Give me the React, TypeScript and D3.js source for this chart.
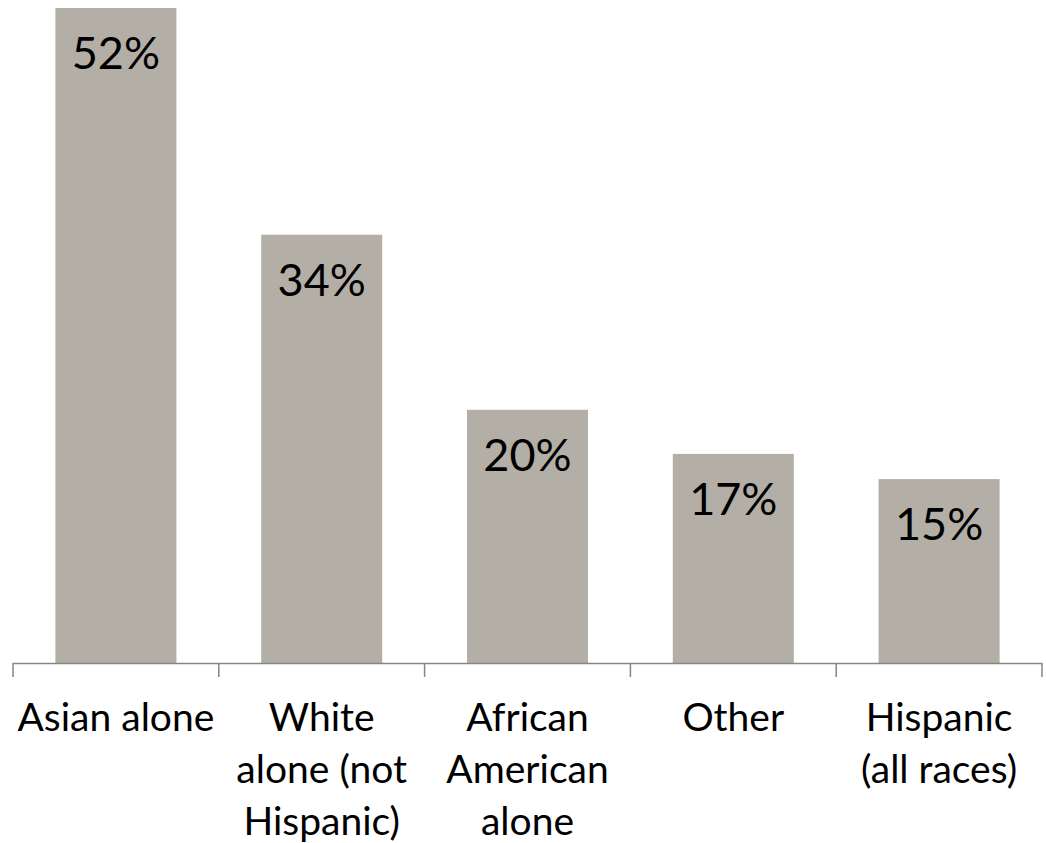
import React from "react";
import * as d3 from "d3";

const categories = ["Asian alone", "White alone (not Hispanic)", "African American alone", "Other", "Hispanic (all races)"];
const categoryLines = [
  ["Asian alone"],
  ["White", "alone (not", "Hispanic)"],
  ["African", "American", "alone"],
  ["Other"],
  ["Hispanic", "(all races)"],
];
const values = [52, 34, 20.1, 16.6, 14.6];

const W = 1046;
const H = 843;
const FONT = "Lato, 'Open Sans', sans-serif";

export default function App() {
  const x = d3.scaleBand<string>().domain(categories).range([13, 1042]).paddingInner(0.412).paddingOuter(0.206);
  const y = d3.scaleLinear().domain([0, 52]).range([663, 8]);
  const step = x.step();
  const bounds = d3.range(categories.length + 1).map((i) => 13 + i * step);

  return (
    <svg width={W} height={H} style={{ position: "absolute", left: 0, top: 0, background: "#fff" }}>
      {categories.map((c, i) => (
        <g key={c}>
          <rect x={x(c)} y={y(values[i])} width={x.bandwidth()} height={y(0) - y(values[i])} fill="#b3afa7" />
          <text
            x={(x(c) as number) + x.bandwidth() / 2}
            y={y(values[i]) + 61}
            textAnchor="middle"
            fontFamily={FONT}
            fontSize={45}
            fill="#000"
          >
            {`${Math.round(values[i])}%`}
          </text>
          <text textAnchor="middle" fontFamily={FONT} fontSize={39} fill="#000">
            {categoryLines[i].map((ln, j) => (
              <tspan key={j} x={(x(c) as number) + x.bandwidth() / 2} y={731 + j * 52}>
                {ln}
              </tspan>
            ))}
          </text>
        </g>
      ))}
      <line x1={13} x2={1042} y1={663.5} y2={663.5} stroke="#868686" strokeWidth={1.5} />
      {bounds.map((b, i) => (
        <line key={i} x1={b} x2={b} y1={663} y2={677} stroke="#868686" strokeWidth={1.5} />
      ))}
    </svg>
  );
}
